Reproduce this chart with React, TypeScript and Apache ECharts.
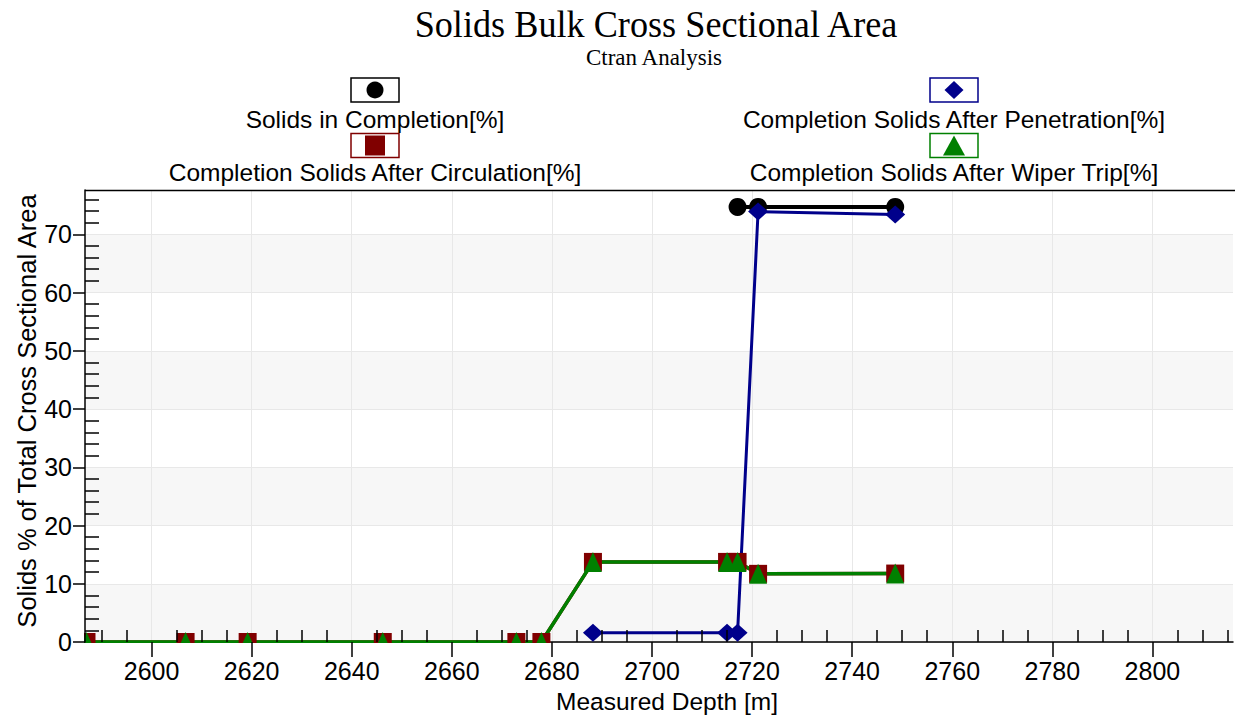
import React, { useEffect, useRef } from 'react';
import * as echarts from 'echarts';

// ---- data ----
const depthCirculation = [2587, 2606.8, 2619.2, 2646.2, 2672.9, 2677.9, 2688.2, 2715, 2717.1, 2721.2, 2748.6];
const circulation = [0, 0, 0, 0, 0, 0, 13.75, 13.75, 13.75, 11.7, 11.75];
const depthWiper = [2587, 2606.8, 2619.2, 2646.2, 2672.9, 2677.9, 2688.2, 2715, 2717.1, 2721.2, 2748.6];
const wiperTrip = [0, 0, 0, 0, 0, 0, 13.75, 13.75, 13.75, 11.7, 11.75];
const depthPenetration = [2688.2, 2715, 2717.1, 2721.2, 2748.6];
const penetration = [1.6, 1.6, 1.6, 73.9, 73.4];
const depthCompletion = [2717.1, 2721.2, 2748.6];
const completion = [74.7, 74.7, 74.7];

const xMajorTicks = [2600, 2620, 2640, 2660, 2680, 2700, 2720, 2740, 2760, 2780, 2800];
const xMinorTicks = [2590, 2595, 2605, 2610, 2615, 2625, 2630, 2635, 2645, 2650, 2655, 2665, 2670, 2675,
  2685, 2690, 2695, 2705, 2710, 2715, 2725, 2730, 2735, 2745, 2750, 2755, 2765, 2770, 2775, 2785, 2790,
  2795, 2805, 2810, 2815];
const yMajorTicks = [0, 10, 20, 30, 40, 50, 60, 70];
const yMinorTicks = [2, 4, 6, 8, 12, 14, 16, 18, 22, 24, 26, 28, 32, 34, 36, 38, 42, 44, 46, 48, 52, 54, 56, 58,
  62, 64, 66, 68, 72, 74, 76];

const X_MIN = 2586.7;
const X_MAX = 2816.1;
const Y_MIN = 0;
const Y_MAX = 77.6;

const legendItems = [
  { name: 'Solids in Completion[%]', color: '#000000', symbol: 'circle', col: 0, row: 0 },
  { name: 'Completion Solids After Penetration[%]', color: '#00008b', symbol: 'diamond', col: 1, row: 0 },
  { name: 'Completion Solids After Circulation[%]', color: '#800000', symbol: 'square', col: 0, row: 1 },
  { name: 'Completion Solids After Wiper Trip[%]', color: '#008000', symbol: 'triangle', col: 1, row: 1 },
];

const SANS = '"Liberation Sans", Arial, sans-serif';
const SERIF = '"Liberation Serif", "Times New Roman", serif';

function buildLegend(): any[] {
  const els: any[] = [];
  const colX = [375, 954];
  const boxY = [78, 133.5];
  const textY = [119, 172.5];
  legendItems.forEach((it) => {
    const cx = colX[it.col];
    const by = boxY[it.row];
    const cy = by + 12;
    els.push({
      type: 'rect', z: 20,
      shape: { x: cx - 24, y: by, width: 48, height: 24 },
      style: { fill: '#fff', stroke: it.color, lineWidth: 1.5 },
    });
    if (it.symbol === 'circle') {
      els.push({ type: 'circle', z: 21, shape: { cx, cy, r: 8.5 }, style: { fill: it.color } });
    } else if (it.symbol === 'diamond') {
      els.push({
        type: 'polygon', z: 21,
        shape: { points: [[cx, cy - 9], [cx + 9.5, cy], [cx, cy + 9], [cx - 9.5, cy]] },
        style: { fill: it.color },
      });
    } else if (it.symbol === 'square') {
      els.push({ type: 'rect', z: 21, shape: { x: cx - 10, y: cy - 10, width: 20, height: 20 }, style: { fill: it.color } });
    } else {
      els.push({
        type: 'polygon', z: 21,
        shape: { points: [[cx, cy - 10], [cx + 11, cy + 10], [cx - 11, cy + 10]] },
        style: { fill: it.color },
      });
    }
    els.push({
      type: 'text', z: 21, x: cx, y: textY[it.row],
      style: { text: it.name, font: `24.5px ${SANS}`, fill: '#000', align: 'center', verticalAlign: 'middle' },
    });
  });
  return els;
}

export default function App() {
  const ref = useRef<HTMLDivElement>(null);

  useEffect(() => {
    if (!ref.current) return;
    const chart = echarts.init(ref.current, null, { renderer: 'svg' });

    const xBase = { type: 'value', min: X_MIN, max: X_MAX, gridIndex: 0, position: 'bottom', offset: 0 };
    const yBase = { type: 'value', min: Y_MIN, max: Y_MAX, gridIndex: 0, position: 'left', offset: 0 };
    const tickLine = { color: '#000', width: 1.5 };
    const plain = (v: number) => String(v);

    const option: any = {
      animation: false,
      backgroundColor: '#ffffff',
      grid: { left: 85, top: 190, width: 1148, height: 452, containLabel: false, outerBoundsMode: 'none' },
      xAxis: [
        {
          ...xBase, z: 0,
          axisLine: { show: false },
          axisTick: { show: false, customValues: xMajorTicks },
          axisLabel: { show: false, customValues: xMajorTicks },
          splitLine: { show: true, lineStyle: { color: '#e8e8e8', width: 1 } },
        },
        {
          ...xBase, z: 1,
          axisLine: { show: true, onZero: false, lineStyle: { color: '#000', width: 1.5 } },
          axisTick: { show: false }, axisLabel: { show: false }, splitLine: { show: false },
        },
        {
          ...xBase, z: 10,
          axisLine: { show: false },
          axisTick: { show: true, inside: false, length: 15, customValues: xMajorTicks, lineStyle: tickLine },
          axisLabel: {
            show: true, customValues: xMajorTicks, margin: 16, fontSize: 25, fontFamily: SANS, color: '#000',
            formatter: plain,
          },
          splitLine: { show: false },
          name: 'Measured Depth [m]', nameLocation: 'middle', nameGap: 47, nameMoveOverlap: false,
          nameTextStyle: { fontSize: 24.5, fontFamily: SANS, color: '#000', padding: [0, 0, 0, 16] },
        },
        {
          ...xBase, z: 10,
          axisLine: { show: false },
          axisTick: { show: true, inside: true, length: 12, customValues: xMinorTicks, lineStyle: tickLine },
          axisLabel: { show: false, customValues: xMinorTicks }, splitLine: { show: false },
        },
      ],
      yAxis: [
        {
          ...yBase, z: 0,
          axisLine: { show: false },
          axisTick: { show: false, customValues: yMajorTicks },
          axisLabel: { show: false, customValues: yMajorTicks },
          splitLine: { show: true, lineStyle: { color: '#e8e8e8', width: 1 } },
          splitArea: { show: true, areaStyle: { color: ['#f7f7f7', '#ffffff'] } },
        },
        {
          ...yBase, z: 10,
          axisLine: { show: true, onZero: false, lineStyle: { color: '#000', width: 1.5 } },
          axisTick: { show: true, inside: false, length: 12, customValues: yMajorTicks, lineStyle: tickLine },
          axisLabel: {
            show: true, customValues: yMajorTicks, margin: 13, fontSize: 25, fontFamily: SANS, color: '#000',
            formatter: plain,
          },
          splitLine: { show: false },
          name: 'Solids % of Total Cross Sectional Area', nameLocation: 'middle', nameGap: 45, nameMoveOverlap: false,
          nameTextStyle: { fontSize: 25.5, fontFamily: SANS, color: '#000', padding: [0, 0, 0, 10] },
        },
        {
          ...yBase, z: 10,
          axisLine: { show: false },
          axisTick: { show: true, inside: true, length: 14, customValues: yMinorTicks, lineStyle: tickLine },
          axisLabel: { show: false, customValues: yMinorTicks }, splitLine: { show: false },
        },
      ],
      series: [
        {
          type: 'line', name: 'Completion Solids After Circulation[%]', xAxisIndex: 0, yAxisIndex: 0, z: 2,
          data: depthCirculation.map((d, i) => [d, circulation[i]]),
          symbol: 'rect', symbolSize: 18,
          lineStyle: { color: '#800000', width: 3.5 }, itemStyle: { color: '#800000' },
        },
        {
          type: 'line', name: 'Completion Solids After Wiper Trip[%]', xAxisIndex: 0, yAxisIndex: 0, z: 2,
          data: depthWiper.map((d, i) => [d, wiperTrip[i]]),
          symbol: 'triangle', symbolSize: [18, 20],
          lineStyle: { color: '#008000', width: 3.5 }, itemStyle: { color: '#008000' },
        },
        {
          type: 'line', name: 'Solids in Completion[%]', xAxisIndex: 0, yAxisIndex: 0, z: 2,
          data: depthCompletion.map((d, i) => [d, completion[i]]),
          symbol: 'circle', symbolSize: 18,
          lineStyle: { color: '#000000', width: 4 }, itemStyle: { color: '#000000' },
        },
        {
          type: 'line', name: 'Completion Solids After Penetration[%]', xAxisIndex: 0, yAxisIndex: 0, z: 2,
          data: depthPenetration.map((d, i) => [d, penetration[i]]),
          symbol: 'diamond', symbolSize: [20, 18],
          lineStyle: { color: '#00008b', width: 3 }, itemStyle: { color: '#00008b' },
        },
      ],
      graphic: [
        { type: 'rect', z: 5, silent: true, shape: { x: 0, y: 643, width: 1235, height: 75 }, style: { fill: '#fff' } },
        { type: 'rect', z: 5, silent: true, shape: { x: 0, y: 186, width: 84, height: 470 }, style: { fill: '#fff' } },
        { type: 'line', z: 6, silent: true, shape: { x1: 85, y1: 190.5, x2: 1235, y2: 190.5 }, style: { stroke: '#000', lineWidth: 1.5 } },
        {
          type: 'text', z: 20, x: 656, y: 24.5, scaleX: 0.953,
          style: { text: 'Solids Bulk Cross Sectional Area', font: `38px ${SERIF}`, fill: '#000', align: 'center', verticalAlign: 'middle' },
        },
        {
          type: 'text', z: 20, x: 654, y: 57,
          style: { text: 'Ctran Analysis', font: `23px ${SERIF}`, fill: '#000', align: 'center', verticalAlign: 'middle' },
        },
        ...buildLegend(),
      ],
    };

    chart.setOption(option);
    return () => chart.dispose();
  }, []);

  return (
    <div
      ref={ref}
      style={{ position: 'fixed', left: 0, top: 0, width: 1235, height: 718, background: '#fff' }}
    />
  );
}
